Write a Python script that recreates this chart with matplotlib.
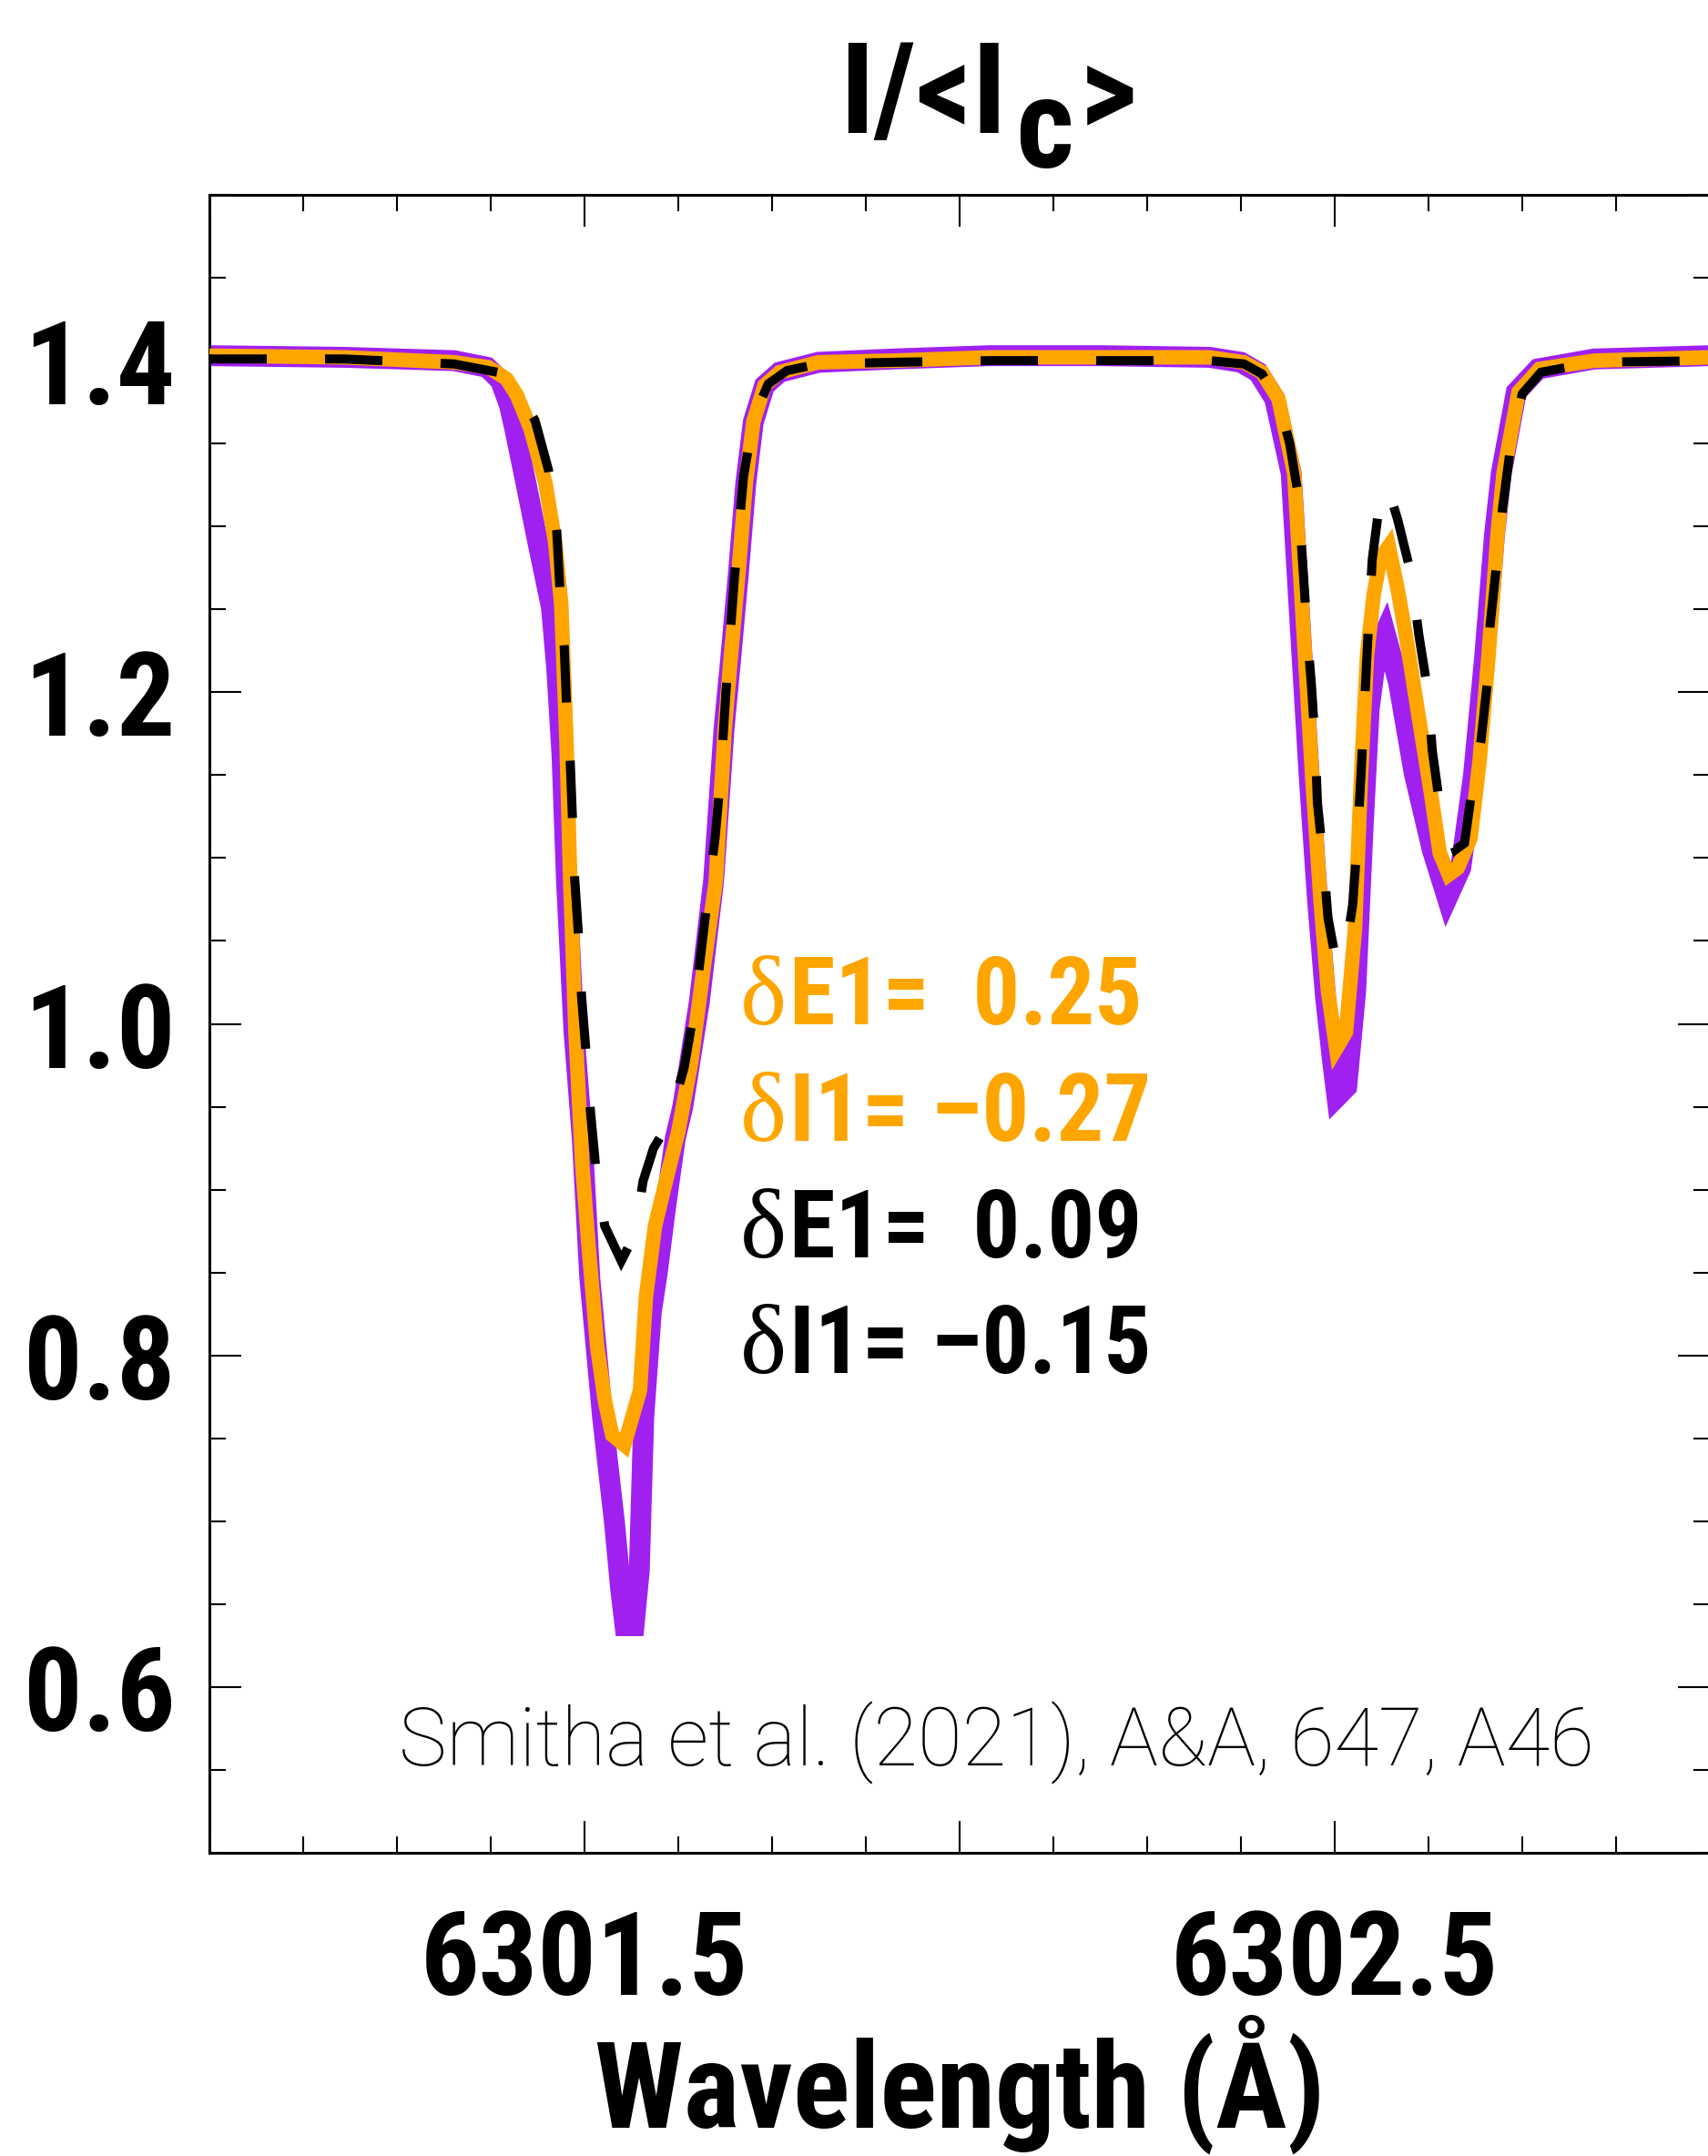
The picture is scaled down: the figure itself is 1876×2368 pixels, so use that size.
import numpy as np
import matplotlib
matplotlib.use('Agg')
import matplotlib.pyplot as plt
from matplotlib.ticker import MultipleLocator
from matplotlib import font_manager
import matplotlib.transforms as mtransforms

# 数据：波长 (Å) 与 I/<Ic>
purple_wl = [6301.000, 6301.180, 6301.326, 6301.370, 6301.388, 6301.400, 6301.407, 6301.422,
             6301.438, 6301.456, 6301.463, 6301.470, 6301.476, 6301.486, 6301.497, 6301.507,
             6301.524, 6301.540, 6301.548, 6301.554, 6301.566, 6301.573, 6301.579, 6301.589,
             6301.597, 6301.608, 6301.621, 6301.631, 6301.653, 6301.672, 6301.686, 6301.694,
             6301.705, 6301.715, 6301.725, 6301.740, 6301.760, 6301.812, 6301.912, 6302.040,
             6302.187, 6302.333, 6302.375, 6302.398, 6302.420, 6302.442, 6302.454, 6302.466,
             6302.477, 6302.488, 6302.497, 6302.503, 6302.516, 6302.528, 6302.538, 6302.546,
             6302.556, 6302.567, 6302.585, 6302.606, 6302.630, 6302.650, 6302.668, 6302.685,
             6302.700, 6302.713, 6302.722, 6302.742, 6302.771, 6302.846, 6303.000]
purple_I = [1.403, 1.402, 1.400, 1.396, 1.388, 1.373, 1.359, 1.326,
            1.290, 1.251, 1.214, 1.162, 1.086, 0.995, 0.931, 0.847,
            0.763, 0.699, 0.660, 0.637, 0.637, 0.670, 0.763, 0.826,
            0.850, 0.889, 0.931, 0.950, 1.013, 1.086, 1.178, 1.216,
            1.271, 1.326, 1.363, 1.385, 1.393, 1.399, 1.401, 1.403,
            1.403, 1.402, 1.399, 1.393, 1.377, 1.332, 1.240, 1.149,
            1.075, 1.015, 0.978, 0.956, 0.962, 1.020, 1.120, 1.190,
            1.225, 1.236, 1.206, 1.151, 1.105, 1.076, 1.094, 1.150,
            1.222, 1.295, 1.332, 1.381, 1.395, 1.401, 1.403]

orange_wl = [6301.000, 6301.179, 6301.326, 6301.372, 6301.396, 6301.410, 6301.428, 6301.448,
             6301.461, 6301.469, 6301.476, 6301.481, 6301.488, 6301.497, 6301.505, 6301.517,
             6301.527, 6301.537, 6301.553, 6301.574, 6301.582, 6301.594, 6301.610, 6301.625,
             6301.642, 6301.658, 6301.675, 6301.687, 6301.694, 6301.705, 6301.715, 6301.725,
             6301.740, 6301.760, 6301.812, 6301.912, 6302.040, 6302.187, 6302.333, 6302.379,
             6302.403, 6302.425, 6302.446, 6302.458, 6302.470, 6302.481, 6302.491, 6302.502,
             6302.515, 6302.527, 6302.535, 6302.543, 6302.552, 6302.561, 6302.572, 6302.584,
             6302.596, 6302.612, 6302.628, 6302.640, 6302.652, 6302.664, 6302.681, 6302.693,
             6302.705, 6302.717, 6302.725, 6302.745, 6302.773, 6302.846, 6303.000]
orange_I = [1.403, 1.402, 1.399, 1.396, 1.389, 1.379, 1.359, 1.326,
            1.290, 1.253, 1.170, 1.086, 0.995, 0.915, 0.868, 0.805,
            0.773, 0.752, 0.746, 0.779, 0.836, 0.878, 0.908, 0.935,
            0.976, 1.031, 1.086, 1.178, 1.216, 1.271, 1.326, 1.363,
            1.385, 1.393, 1.399, 1.400, 1.402, 1.402, 1.402, 1.399,
            1.393, 1.377, 1.332, 1.240, 1.149, 1.075, 1.020, 0.985,
            0.995, 1.057, 1.149, 1.222, 1.259, 1.281, 1.288, 1.262,
            1.231, 1.185, 1.140, 1.103, 1.090, 1.094, 1.112, 1.158,
            1.222, 1.295, 1.332, 1.381, 1.395, 1.400, 1.402]

black_wl = [6301.000, 6301.179, 6301.326, 6301.384, 6301.405, 6301.420, 6301.434, 6301.452,
            6301.463, 6301.467, 6301.473, 6301.476, 6301.481, 6301.484, 6301.487, 6301.492,
            6301.496, 6301.502, 6301.508, 6301.515, 6301.527, 6301.549, 6301.567, 6301.578,
            6301.592, 6301.612, 6301.633, 6301.646, 6301.655, 6301.664, 6301.674, 6301.681,
            6301.690, 6301.700, 6301.712, 6301.725, 6301.745, 6301.770, 6301.812, 6301.912,
            6302.040, 6302.187, 6302.333, 6302.379, 6302.403, 6302.425, 6302.440, 6302.451,
            6302.458, 6302.463, 6302.469, 6302.474, 6302.477, 6302.485, 6302.491, 6302.500,
            6302.507, 6302.515, 6302.524, 6302.530, 6302.535, 6302.540, 6302.545, 6302.550,
            6302.560, 6302.570, 6302.584, 6302.602, 6302.612, 6302.624, 6302.630, 6302.640,
            6302.661, 6302.673, 6302.681, 6302.695, 6302.703, 6302.707, 6302.715, 6302.724,
            6302.735, 6302.750, 6302.775, 6302.846, 6303.000]
black_I = [1.401, 1.401, 1.398, 1.393, 1.385, 1.375, 1.364, 1.334,
           1.297, 1.264, 1.227, 1.193, 1.158, 1.123, 1.087, 1.053,
           1.017, 0.983, 0.947, 0.913, 0.878, 0.857, 0.873, 0.905,
           0.925, 0.940, 0.974, 1.008, 1.042, 1.076, 1.112, 1.147,
           1.210, 1.270, 1.330, 1.365, 1.386, 1.394, 1.398, 1.399,
           1.400, 1.400, 1.400, 1.398, 1.392, 1.376, 1.350, 1.320,
           1.273, 1.238, 1.204, 1.169, 1.133, 1.098, 1.064, 1.042,
           1.037, 1.045, 1.072, 1.110, 1.150, 1.195, 1.240, 1.280,
           1.315, 1.325, 1.304, 1.271, 1.235, 1.201, 1.165, 1.132,
           1.105, 1.109, 1.135, 1.171, 1.204, 1.240, 1.274, 1.312,
           1.350, 1.380, 1.393, 1.399, 1.400]

notes = ['E1=  0.25', 'I1= \u20130.27', 'E1=  0.09', 'I1= \u20130.15']
note_colors = ['#FFA500', '#FFA500', 'black', 'black']
note_y = [0.9995, 0.9297, 0.8593, 0.7896]


def pick(cands):
    names = {f.name for f in font_manager.fontManager.ttflist}
    for c in cands:
        if c in names:
            return c
    return 'DejaVu Sans'


narrow = pick(['Liberation Sans Narrow', 'Nimbus Sans Narrow', 'Arial Narrow', 'Roboto Condensed',
               'Archivo Narrow', 'PT Sans Narrow', 'Fira Sans Condensed', 'IBM Plex Sans Condensed'])
light = pick(['Roboto', 'Lato', 'Open Sans'])
serif = pick(['Liberation Serif', 'DejaVu Serif'])

W, H = 1876, 2368
fig = plt.figure(figsize=(W / 100, H / 100), dpi=100)
ax = fig.add_axes([230 / W, 1 - 2035 / H, 1648 / W, (2035 - 214) / H])

ax.plot(purple_wl, purple_I, color='#A020F0', lw=16.5, solid_joinstyle='miter', zorder=2)
ax.plot(orange_wl, orange_I, color='#FFA500', lw=11.5, solid_joinstyle='miter', zorder=3)
ax.plot(black_wl, black_I, color='black', lw=7.2, dashes=(6.3, 6.4),
        dash_capstyle='butt', dash_joinstyle='miter', zorder=4)

ax.set_xlim(6301.0, 6303.0)
ax.set_ylim(0.5, 1.5)
ax.set_xticks([6301.5, 6302.0, 6302.5])
ax.set_xticklabels(['6301.5', '', '6302.5'])
ax.set_yticks([0.6, 0.8, 1.0, 1.2, 1.4])
ax.set_yticklabels(['0.6', '0.8', '1.0', '1.2', '1.4'])
ax.xaxis.set_minor_locator(MultipleLocator(0.125))
ax.yaxis.set_minor_locator(MultipleLocator(0.05))
ax.tick_params(which='both', direction='in', top=True, right=True, width=1.5)
ax.tick_params(which='major', length=25)
ax.tick_params(which='minor', length=13)
ax.tick_params(axis='x', pad=43)
ax.tick_params(axis='y', pad=27)
for sp in ax.spines.values():
    sp.set_linewidth(2.2)
for lab in ax.get_xticklabels() + ax.get_yticklabels():
    lab.set_family(narrow)
    lab.set_fontweight('bold')
    lab.set_fontsize(92)

ax.set_xlabel('Wavelength (\u00c5)', family=narrow, fontweight='bold', fontsize=94, labelpad=-3)

# 注释文字
for txt, c, yv in zip(notes, note_colors, note_y):
    ax.text(6301.707, yv, '\u03b4', family=serif, fontsize=78, color=c, va='baseline')
    tr = mtransforms.offset_copy(ax.transData, fig=fig, x=54, y=0, units='dots')
    ax.text(6301.707, yv, txt, transform=tr, family=narrow, fontweight='bold',
            fontsize=74, color=c, va='baseline')

ax.text(6301.252, 0.5527, 'Smitha et al. (2021), A&A, 647, A46', family=light,
        fontweight='light', fontsize=64, va='baseline')

# 标题 I/<Ic>
renderer = fig.canvas.get_renderer()
t1 = fig.text(922 / W, 1 - 146 / H, 'I/<I', family=narrow, fontweight='bold', fontsize=100, va='baseline')
bb = t1.get_window_extent(renderer)
t2 = fig.text((bb.x1 + 10) / W, 1 - 184 / H, 'c', family=narrow, fontweight='bold', fontsize=100, va='baseline')
bb2 = t2.get_window_extent(renderer)
fig.text((bb2.x1 + 6) / W, 1 - 146 / H, '>', family=narrow, fontweight='bold', fontsize=100, va='baseline')

fig.savefig('out.png', dpi=100)
